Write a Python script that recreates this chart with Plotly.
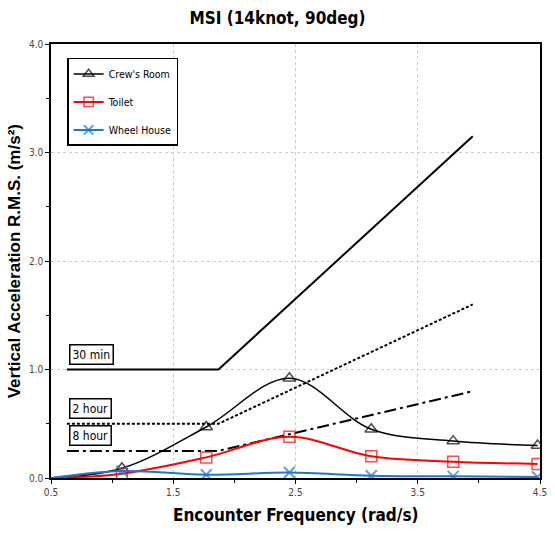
import plotly.graph_objects as go

# ---- data ----
freq = [0.5, 1.08, 1.77, 2.45, 3.12, 3.79, 4.48]
crew_room = [0.0, 0.09, 0.47, 0.92, 0.45, 0.34, 0.30]
toilet = [0.0, 0.04, 0.19, 0.38, 0.20, 0.15, 0.13]
wheel_house = [0.0, 0.065, 0.03, 0.05, 0.02, 0.015, 0.01]

msi_x = [0.63, 1.87, 3.95]
msi_30min = [1.0, 1.0, 3.15]
msi_2hour = [0.5, 0.5, 1.60]
msi_8hour = [0.25, 0.25, 0.80]

x_ticks = [0.5, 1.5, 2.5, 3.5, 4.5]
x_minor = [1.0, 2.0, 3.0, 4.0]
y_ticks = [0.0, 1.0, 2.0, 3.0, 4.0]
y_minor = [0.5, 1.5, 2.5, 3.5]

NARROW = "DejaVu Sans Condensed, Liberation Sans Narrow, Roboto Condensed, sans-serif"

fig = go.Figure()

fig.add_trace(go.Scatter(x=msi_x, y=msi_30min, mode="lines", showlegend=False,
                         line=dict(color="black", width=2, dash="solid"), hoverinfo="skip"))
fig.add_trace(go.Scatter(x=msi_x, y=msi_2hour, mode="lines", showlegend=False,
                         line=dict(color="black", width=2, dash="3px,2px"), hoverinfo="skip"))
fig.add_trace(go.Scatter(x=msi_x, y=msi_8hour, mode="lines", showlegend=False,
                         line=dict(color="black", width=2, dash="12px,4px,3px,4px"), hoverinfo="skip"))

sizes = [0] + [11] * (len(freq) - 1)
fig.add_trace(go.Scatter(x=freq, y=crew_room, mode="lines+markers", name="Crew's Room",
                         legendgroup="a",
                         line=dict(color="black", width=1.5, shape="spline"),
                         marker=dict(symbol="triangle-up-open", size=sizes, color="black",
                                     line=dict(width=1.5, color="black"))))
fig.add_trace(go.Scatter(x=freq, y=toilet, mode="lines+markers", name="Toilet",
                         legendgroup="b",
                         line=dict(color="#ff0000", width=2, shape="spline"),
                         marker=dict(symbol="square-open", size=sizes, color="#ff0000",
                                     line=dict(width=1.5, color="#ff0000"))))
fig.add_trace(go.Scatter(x=freq, y=wheel_house, mode="lines+markers", name="Wheel House",
                         legendgroup="c",
                         line=dict(color="#1f77c8", width=2, shape="spline"),
                         marker=dict(symbol="x-thin-open", size=sizes, color="#1f77c8",
                                     line=dict(width=2, color="#1f77c8"))))

fig.add_trace(go.Scatter(x=[0.5], y=[0], xaxis="x2", yaxis="y2", mode="markers",
                         marker=dict(size=0, opacity=0), showlegend=False, hoverinfo="skip"))

annots = [("30 min", 1.0), ("2 hour", 0.5), ("8 hour", 0.25)]
for txt, yv in annots:
    fig.add_annotation(x=0.63, y=yv, xref="x", yref="y", text=txt, showarrow=False,
                       xanchor="left", yanchor="bottom", yshift=5, xshift=2,
                       font=dict(family=NARROW, size=12, color="black"),
                       bordercolor="black", borderwidth=1.5, borderpad=2,
                       bgcolor="white")

fig.add_annotation(x=0.5, y=-0.085, xref="paper", yref="paper",
                   text="<b>Encounter Frequency (rad/s)</b>", showarrow=False,
                   xanchor="center", yanchor="middle",
                   font=dict(family=NARROW, size=17, color="black"))
fig.add_annotation(x=-0.075, y=0.5, xref="paper", yref="paper", textangle=-90,
                   text="<b>Vertical Acceleration R.M.S. (m/s²)</b>", showarrow=False,
                   xanchor="center", yanchor="middle",
                   font=dict(family="Liberation Sans, Arial, sans-serif", size=17, color="black"))

fig.update_layout(
    width=555, height=534,
    margin=dict(l=51, r=15, t=44, b=56),
    paper_bgcolor="white", plot_bgcolor="white",
    title=dict(text="<b>MSI (14knot, 90deg)</b>", x=0.5, xanchor="center", y=0.966,
               yanchor="middle", font=dict(family=NARROW, size=17, color="black")),
    showlegend=True,
    legend=dict(x=0.033, y=0.968, xanchor="left", yanchor="top",
                bordercolor="black", borderwidth=1.5, bgcolor="white",
                font=dict(family=NARROW, size=10.5, color="black"),
                tracegroupgap=9, itemwidth=30),
    xaxis=dict(range=[0.5, 4.5], tickvals=x_ticks, ticktext=[f"{v:.1f}" for v in x_ticks],
               showgrid=True, gridcolor="#cccccc", griddash="dot", gridwidth=1,
               showline=True, linecolor="black", linewidth=1.5, mirror=True,
               ticks="outside", ticklen=4, tickcolor="black", automargin=False,
               tickfont=dict(family=NARROW, size=10, color="#444444"),
               zeroline=False),
    yaxis=dict(range=[0, 4.0], tickvals=y_ticks, ticktext=[f"{v:.1f}" for v in y_ticks],
               showgrid=True, gridcolor="#cccccc", griddash="dot", gridwidth=1,
               showline=True, linecolor="black", linewidth=1.5, mirror=True,
               ticks="outside", ticklen=4, tickcolor="black", automargin=False,
               tickfont=dict(family=NARROW, size=10, color="#444444"),
               zeroline=False),
    xaxis2=dict(overlaying="x", range=[0.5, 4.5], tickvals=x_minor, ticktext=[""] * 4,
                ticks="outside", ticklen=4, tickcolor="black", showgrid=False,
                showline=False, zeroline=False, side="bottom", automargin=False),
    yaxis2=dict(overlaying="y", range=[0, 4.0], tickvals=y_minor, ticktext=[""] * 4,
                ticks="outside", ticklen=4, tickcolor="black", showgrid=False,
                showline=False, zeroline=False, side="left", automargin=False),
)

fig.write_html("out.html")
